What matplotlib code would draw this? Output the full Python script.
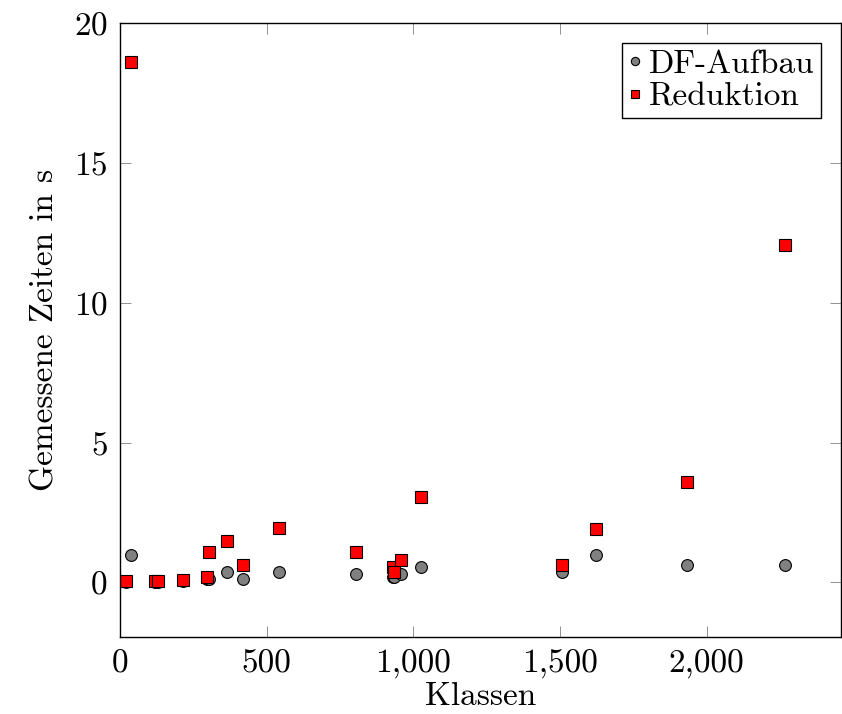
import matplotlib
matplotlib.use("Agg")
import matplotlib.pyplot as plt
from matplotlib.ticker import FuncFormatter

plt.rcParams["font.family"] = "serif"
plt.rcParams["font.serif"] = ["cmr10", "DejaVu Serif"]
plt.rcParams["axes.formatter.use_mathtext"] = True
plt.rcParams["mathtext.fontset"] = "cm"

# Klassen / gemessene Zeiten (s)
df_klassen = [20, 37, 119, 129, 215, 296, 303, 365, 419, 542, 805, 932, 933, 958, 1026, 1507, 1623, 1933, 2267]
df_zeiten = [0.02, 0.97, 0.02, 0.02, 0.05, 0.12, 0.14, 0.36, 0.11, 0.36, 0.32, 0.18, 0.20, 0.32, 0.54, 0.36, 0.97, 0.61, 0.61]

red_klassen = [20, 37, 119, 129, 215, 296, 303, 365, 419, 542, 805, 932, 933, 958, 1026, 1507, 1623, 1933, 2267]
red_zeiten = [0.07, 18.6, 0.04, 0.04, 0.1, 0.2, 1.1, 1.5, 0.64, 1.94, 1.08, 0.55, 0.38, 0.79, 3.05, 0.64, 1.9, 3.6, 12.08]

fig = plt.figure(figsize=(8.42, 7.14), dpi=100)
ax = fig.add_axes([0.1425, 0.1078, 0.8563, 0.86])

ax.plot(df_klassen, df_zeiten, linestyle="none", marker="o", markersize=8.5,
        markerfacecolor="#808080", markeredgecolor="black", markeredgewidth=0.8,
        label="DF-Aufbau")
ax.plot(red_klassen, red_zeiten, linestyle="none", marker="s", markersize=8.5,
        markerfacecolor="#ff0000", markeredgecolor="black", markeredgewidth=0.8,
        label="Reduktion")

ax.set_xlim(0, 2458)
ax.set_ylim(-1.95, 20)
ax.set_xticks([0, 500, 1000, 1500, 2000])
ax.set_yticks([0, 5, 10, 15, 20])
ax.xaxis.set_major_formatter(FuncFormatter(lambda v, p: f"{int(v):,}"))
ax.tick_params(direction="in", length=8, width=0.6, color="#808080",
               top=True, right=True, labelsize=24, pad=9)
for s in ax.spines.values():
    s.set_linewidth(1.0)

ax.set_xlabel("Klassen", fontsize=24, labelpad=2)
ax.set_ylabel("Gemessene Zeiten in s", fontsize=24, labelpad=10)

leg = ax.legend(loc="upper right", fontsize=24, markerscale=0.7, fancybox=False,
                edgecolor="black", framealpha=1, handlelength=0.4,
                handletextpad=0.2, borderpad=0.2, labelspacing=0.1,
                borderaxespad=0.6)
leg.get_frame().set_linewidth(1.0)

fig.savefig("out.png", dpi=100)
